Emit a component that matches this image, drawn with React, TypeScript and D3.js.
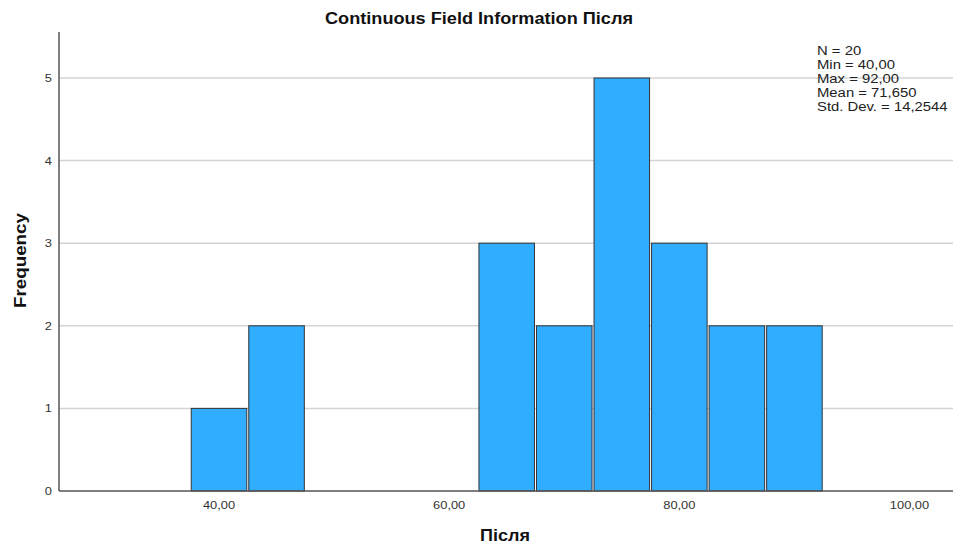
import React from "react";
import * as d3 from "d3";

const binStarts = [37.5, 42.5, 62.5, 67.5, 72.5, 77.5, 82.5, 87.5];
const binWidthValue = 5;
const frequencies = [1, 2, 3, 2, 5, 3, 2, 2];
const yTicks = [0, 1, 2, 3, 4, 5];
const xTicks = [40, 60, 80, 100];
const statsLines = ["N = 20", "Min = 40,00", "Max = 92,00", "Mean = 71,650", "Std. Dev. = 14,2544"];

const W = 953;
const H = 548;
const left = 59;
const right = 953;
const top = 32;
const bottom = 491;

function SText(props: {
  x: number;
  y: number;
  sx?: number;
  anchor?: string;
  size: number;
  bold?: boolean;
  fill?: string;
  children: React.ReactNode;
}) {
  const { x, y, sx = 1.12, anchor = "start", size, bold, fill = "#222", children } = props;
  return (
    <text
      transform={`translate(${x},${y}) scale(${sx},1)`}
      textAnchor={anchor}
      fontSize={size}
      fontWeight={bold ? "bold" : "normal"}
      fill={fill}
    >
      {children}
    </text>
  );
}

export default function App() {
  const x = d3.scaleLinear().domain([40, 100]).range([219, 909.5]);
  const y = d3.scaleLinear().domain([0, 5]).range([bottom, 78]);
  const font = "'Liberation Sans', Arial, sans-serif";
  const fmt = (v: number) => v.toFixed(2).replace(".", ",");
  return (
    <div style={{ position: "absolute", left: 0, top: 0 }}>
      <svg width={W} height={H} style={{ display: "block" }} fontFamily={font}>
        <rect width={W} height={H} fill="#fff" />
        {yTicks.filter((t) => t > 0).map((t) => (
          <line key={t} x1={left} x2={right} y1={y(t)} y2={y(t)} stroke="#d4d4d4" strokeWidth={1.5} />
        ))}
        {binStarts.map((s, i) => {
          const x0 = x(s) + 1;
          const x1 = x(s + binWidthValue) - 1;
          return (
            <rect
              key={i}
              x={x0}
              y={y(frequencies[i])}
              width={x1 - x0}
              height={y(0) - y(frequencies[i])}
              fill="#30adfe"
              stroke="#333"
              strokeWidth={1}
            />
          );
        })}
        <line x1={left} x2={left} y1={top} y2={bottom} stroke="#555" strokeWidth={1.5} />
        <line x1={left} x2={right} y1={bottom} y2={bottom} stroke="#555" strokeWidth={1.5} />
        {yTicks.map((t) => (
          <SText key={t} x={52} y={y(t) + 4} anchor="end" size={11.5} fill="#333">
            {t}
          </SText>
        ))}
        {xTicks.map((t) => (
          <SText key={t} x={x(t)} y={509} anchor="middle" size={11.5} fill="#333">
            {fmt(t)}
          </SText>
        ))}
        <text
          x={479}
          y={24}
          textAnchor="middle"
          fontSize={16}
          fontWeight="bold"
          fill="#111"
          textLength={308}
          lengthAdjust="spacingAndGlyphs"
        >
          Continuous Field Information Після
        </text>
        <text
          transform={`translate(26,260.5) rotate(-90)`}
          textAnchor="middle"
          fontSize={16}
          fontWeight="bold"
          fill="#111"
          textLength={95}
          lengthAdjust="spacingAndGlyphs"
        >
          Frequency
        </text>
        <text
          x={505}
          y={541}
          textAnchor="middle"
          fontSize={17}
          fontWeight="bold"
          fill="#111"
          textLength={50}
          lengthAdjust="spacingAndGlyphs"
        >
          Після
        </text>
        {statsLines.map((s, i) => (
          <SText key={i} x={817} y={55 + i * 14} size={13.5} sx={1.1} fill="#222">
            {s}
          </SText>
        ))}
      </svg>
    </div>
  );
}
